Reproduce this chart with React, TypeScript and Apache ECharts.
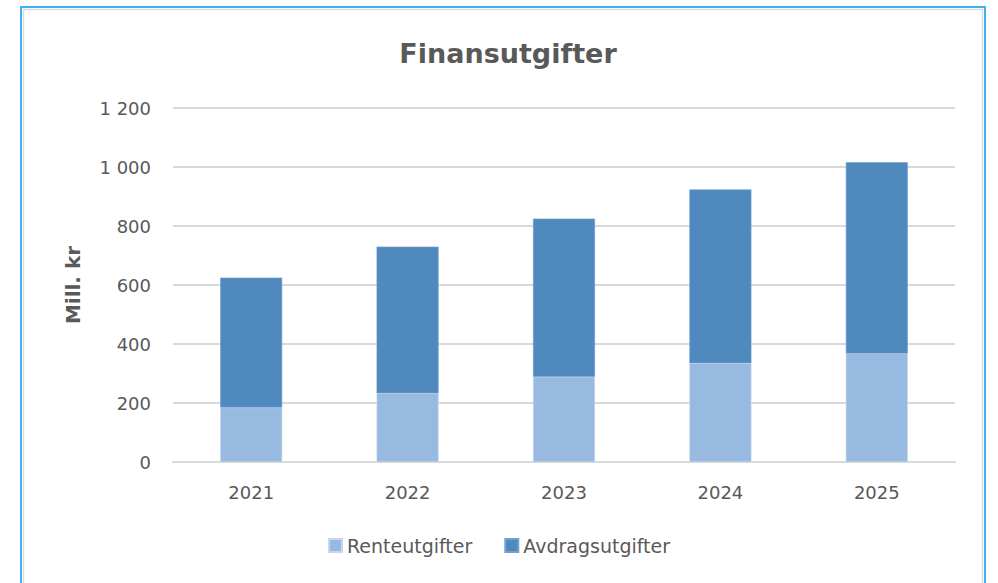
import React, { useEffect, useRef } from "react";
import * as echarts from "echarts";

const categories = ["2021", "2022", "2023", "2024", "2025"];
const renteutgifter = [185, 233, 289, 335, 368];
const avdragsutgifter = [440, 497, 536, 589, 648];
const yTicks = [0, 200, 400, 600, 800, 1000, 1200];

const fmt = (v: number) => {
  const s = String(v);
  return s.length > 3 ? s.slice(0, s.length - 3) + " " + s.slice(s.length - 3) : s;
};

export default function App() {
  const ref = useRef<HTMLDivElement>(null);
  useEffect(() => {
    if (!ref.current) return;
    const chart = echarts.init(ref.current, null, { renderer: "svg" });
    const font = "DejaVu Sans";
    chart.setOption({
      animation: false,
      backgroundColor: "#ffffff",
      title: {
        text: "Finansutgifter",
        left: 503,
        top: 35,
        textAlign: "center",
        textStyle: { fontFamily: font, fontWeight: "bold", fontSize: 27, color: "#595959" },
      },
      graphic: [
        {
          type: "rect",
          shape: { x: 21, y: 7, width: 964, height: 600 },
          style: { fill: "none", stroke: "#3db2f7", lineWidth: 2 },
          z: 100,
        },
        {
          type: "rect",
          shape: { x: 23.5, y: 9.5, width: 959, height: 600 },
          style: { fill: "none", stroke: "#dcdcdc", lineWidth: 1.5 },
          z: 100,
        },
      ],
      legend: {
        data: ["Renteutgifter", "Avdragsutgifter"],
        bottom: 23,
        left: "center",
        itemWidth: 13,
        itemHeight: 13,
        itemGap: 32,
        icon: "rect",
        textStyle: { fontFamily: font, fontSize: 19, color: "#595959" },
      },
      grid: { left: 173, right: 43, top: 108, bottom: 121 },
      xAxis: {
        type: "category",
        data: categories,
        axisLine: { lineStyle: { color: "#d9d9d9", width: 2 } },
        axisTick: { show: false },
        axisLabel: { fontFamily: font, fontSize: 18, color: "#595959", margin: 21 },
      },
      yAxis: {
        type: "value",
        min: yTicks[0],
        max: yTicks[yTicks.length - 1],
        interval: 200,
        name: "Mill. kr",
        nameLocation: "middle",
        nameGap: 90,
        nameRotate: 90,
        nameTextStyle: { fontFamily: font, fontWeight: "bold", fontSize: 20, color: "#595959" },
        axisLine: { show: false },
        axisTick: { show: false },
        splitLine: { lineStyle: { color: "#d9d9d9", width: 2 } },
        axisLabel: {
          fontFamily: font,
          fontSize: 18,
          color: "#595959",
          margin: 22,
          formatter: (v: number) => fmt(v),
        },
      },
      series: [
        {
          name: "Renteutgifter",
          type: "bar",
          stack: "total",
          barWidth: 62,
          data: renteutgifter,
          itemStyle: { color: "#98b9e0", borderColor: "#c5d8ef", borderWidth: 0.6 },
        },
        {
          name: "Avdragsutgifter",
          type: "bar",
          stack: "total",
          barWidth: 62,
          data: avdragsutgifter,
          itemStyle: { color: "#4f89bd", borderColor: "#6fa0d0", borderWidth: 0.6 },
        },
      ],
    });
    return () => chart.dispose();
  }, []);
  return (
    <div
      ref={ref}
      style={{ position: "fixed", left: 0, top: 0, width: 998, height: 583 }}
    />
  );
}
